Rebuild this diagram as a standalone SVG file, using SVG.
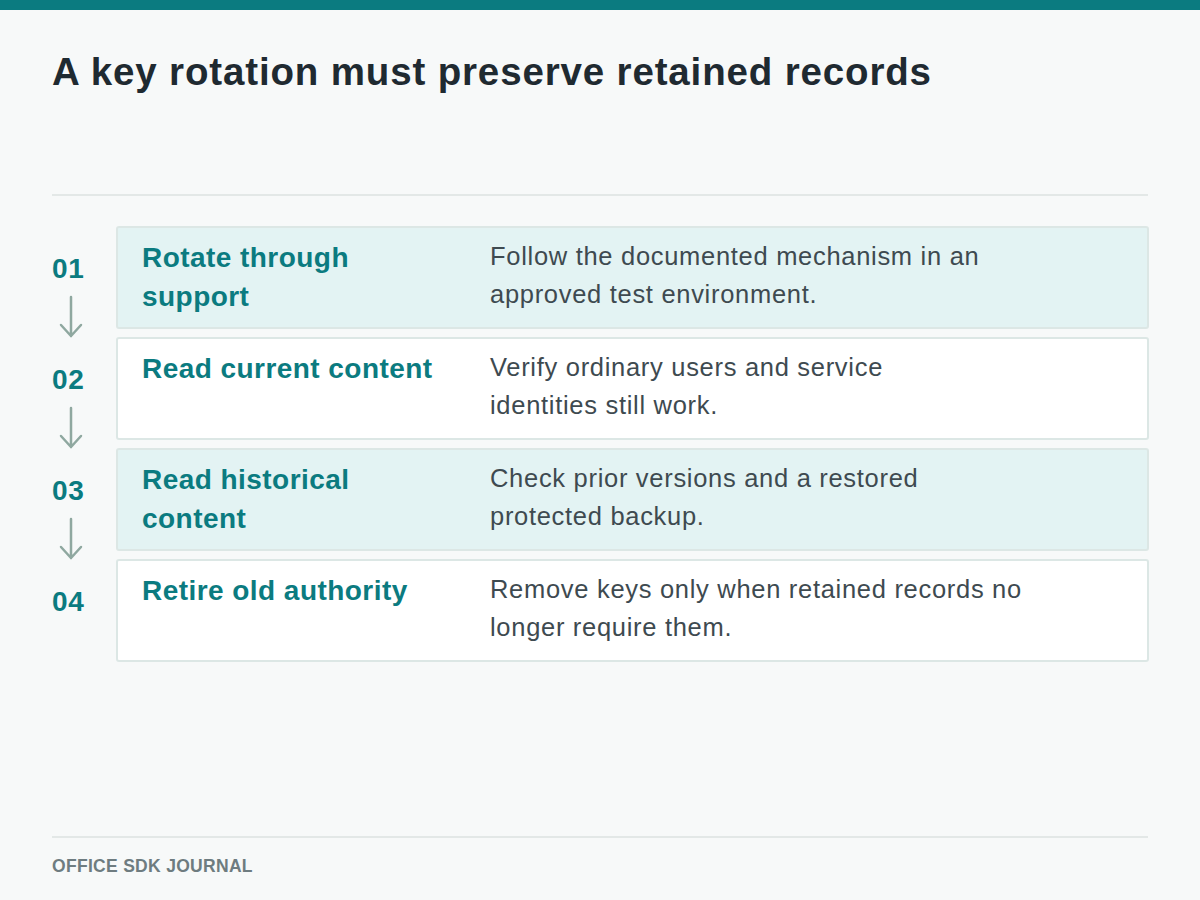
<svg xmlns="http://www.w3.org/2000/svg" width="1200" height="900" viewBox="0 0 1200 900">
<style>
.title{font-family:"Liberation Sans",Arial,sans-serif;font-weight:bold;font-size:38.5px;letter-spacing:0.85px;fill:#1f2a31}
.num{font-family:"Liberation Sans",Arial,sans-serif;font-weight:bold;font-size:28px;letter-spacing:0.6px;fill:#0b7b80}
.lbl{font-family:"Liberation Sans",Arial,sans-serif;font-weight:bold;font-size:28px;letter-spacing:0.45px;fill:#0b7b80}
.desc{font-family:"Liberation Sans",Arial,sans-serif;font-size:25.5px;letter-spacing:0.7px;fill:#3e4a50}
.foot{font-family:"Liberation Sans",Arial,sans-serif;font-weight:bold;font-size:17.5px;fill:#6e7c80;letter-spacing:0.3px}
.boxA{fill:#e3f3f3;stroke:#dce7e5;stroke-width:2}
.boxB{fill:#ffffff;stroke:#dce7e5;stroke-width:2}
.rule{stroke:#e3e8e7;stroke-width:2}
.arr{stroke:#8fa8a0;stroke-width:2.5;fill:none;stroke-linecap:round}
</style>
<rect x="0" y="0" width="1200" height="900" fill="#f7f9f9"/>
<rect x="0" y="0" width="1200" height="10" fill="#0b7b80"/>
<text class="title" x="52" y="85">A key rotation must preserve retained records</text>
<line class="rule" x1="52" y1="195" x2="1148" y2="195"/>
<g id="connectors">
<path class="arr" d="M71 297 V336 M61 325 L71 336 L81 325"/>
<path class="arr" d="M71 408 V447 M61 436 L71 447 L81 436"/>
<path class="arr" d="M71 519 V558 M61 547 L71 558 L81 547"/>
</g>
<g id="step1">
<rect class="boxA" x="117" y="227" width="1031" height="101" rx="2"/>
<text class="num" x="52" y="278">01</text>
<text class="lbl" x="142" y="267">Rotate through</text>
<text class="lbl" x="142" y="306">support</text>
<text class="desc" x="490" y="265">Follow the documented mechanism in an</text>
<text class="desc" x="490" y="303">approved test environment.</text>
</g>
<g id="step2">
<rect class="boxB" x="117" y="338" width="1031" height="101" rx="2"/>
<text class="num" x="52" y="389">02</text>
<text class="lbl" x="142" y="378">Read current content</text>
<text class="desc" x="490" y="376">Verify ordinary users and service</text>
<text class="desc" x="490" y="414">identities still work.</text>
</g>
<g id="step3">
<rect class="boxA" x="117" y="449" width="1031" height="101" rx="2"/>
<text class="num" x="52" y="500">03</text>
<text class="lbl" x="142" y="489">Read historical</text>
<text class="lbl" x="142" y="528">content</text>
<text class="desc" x="490" y="487">Check prior versions and a restored</text>
<text class="desc" x="490" y="525">protected backup.</text>
</g>
<g id="step4">
<rect class="boxB" x="117" y="560" width="1031" height="101" rx="2"/>
<text class="num" x="52" y="611">04</text>
<text class="lbl" x="142" y="600">Retire old authority</text>
<text class="desc" x="490" y="598">Remove keys only when retained records no</text>
<text class="desc" x="490" y="636">longer require them.</text>
</g>
<line class="rule" x1="52" y1="837" x2="1148" y2="837"/>
<text class="foot" x="52" y="872">OFFICE SDK JOURNAL</text>
</svg>
